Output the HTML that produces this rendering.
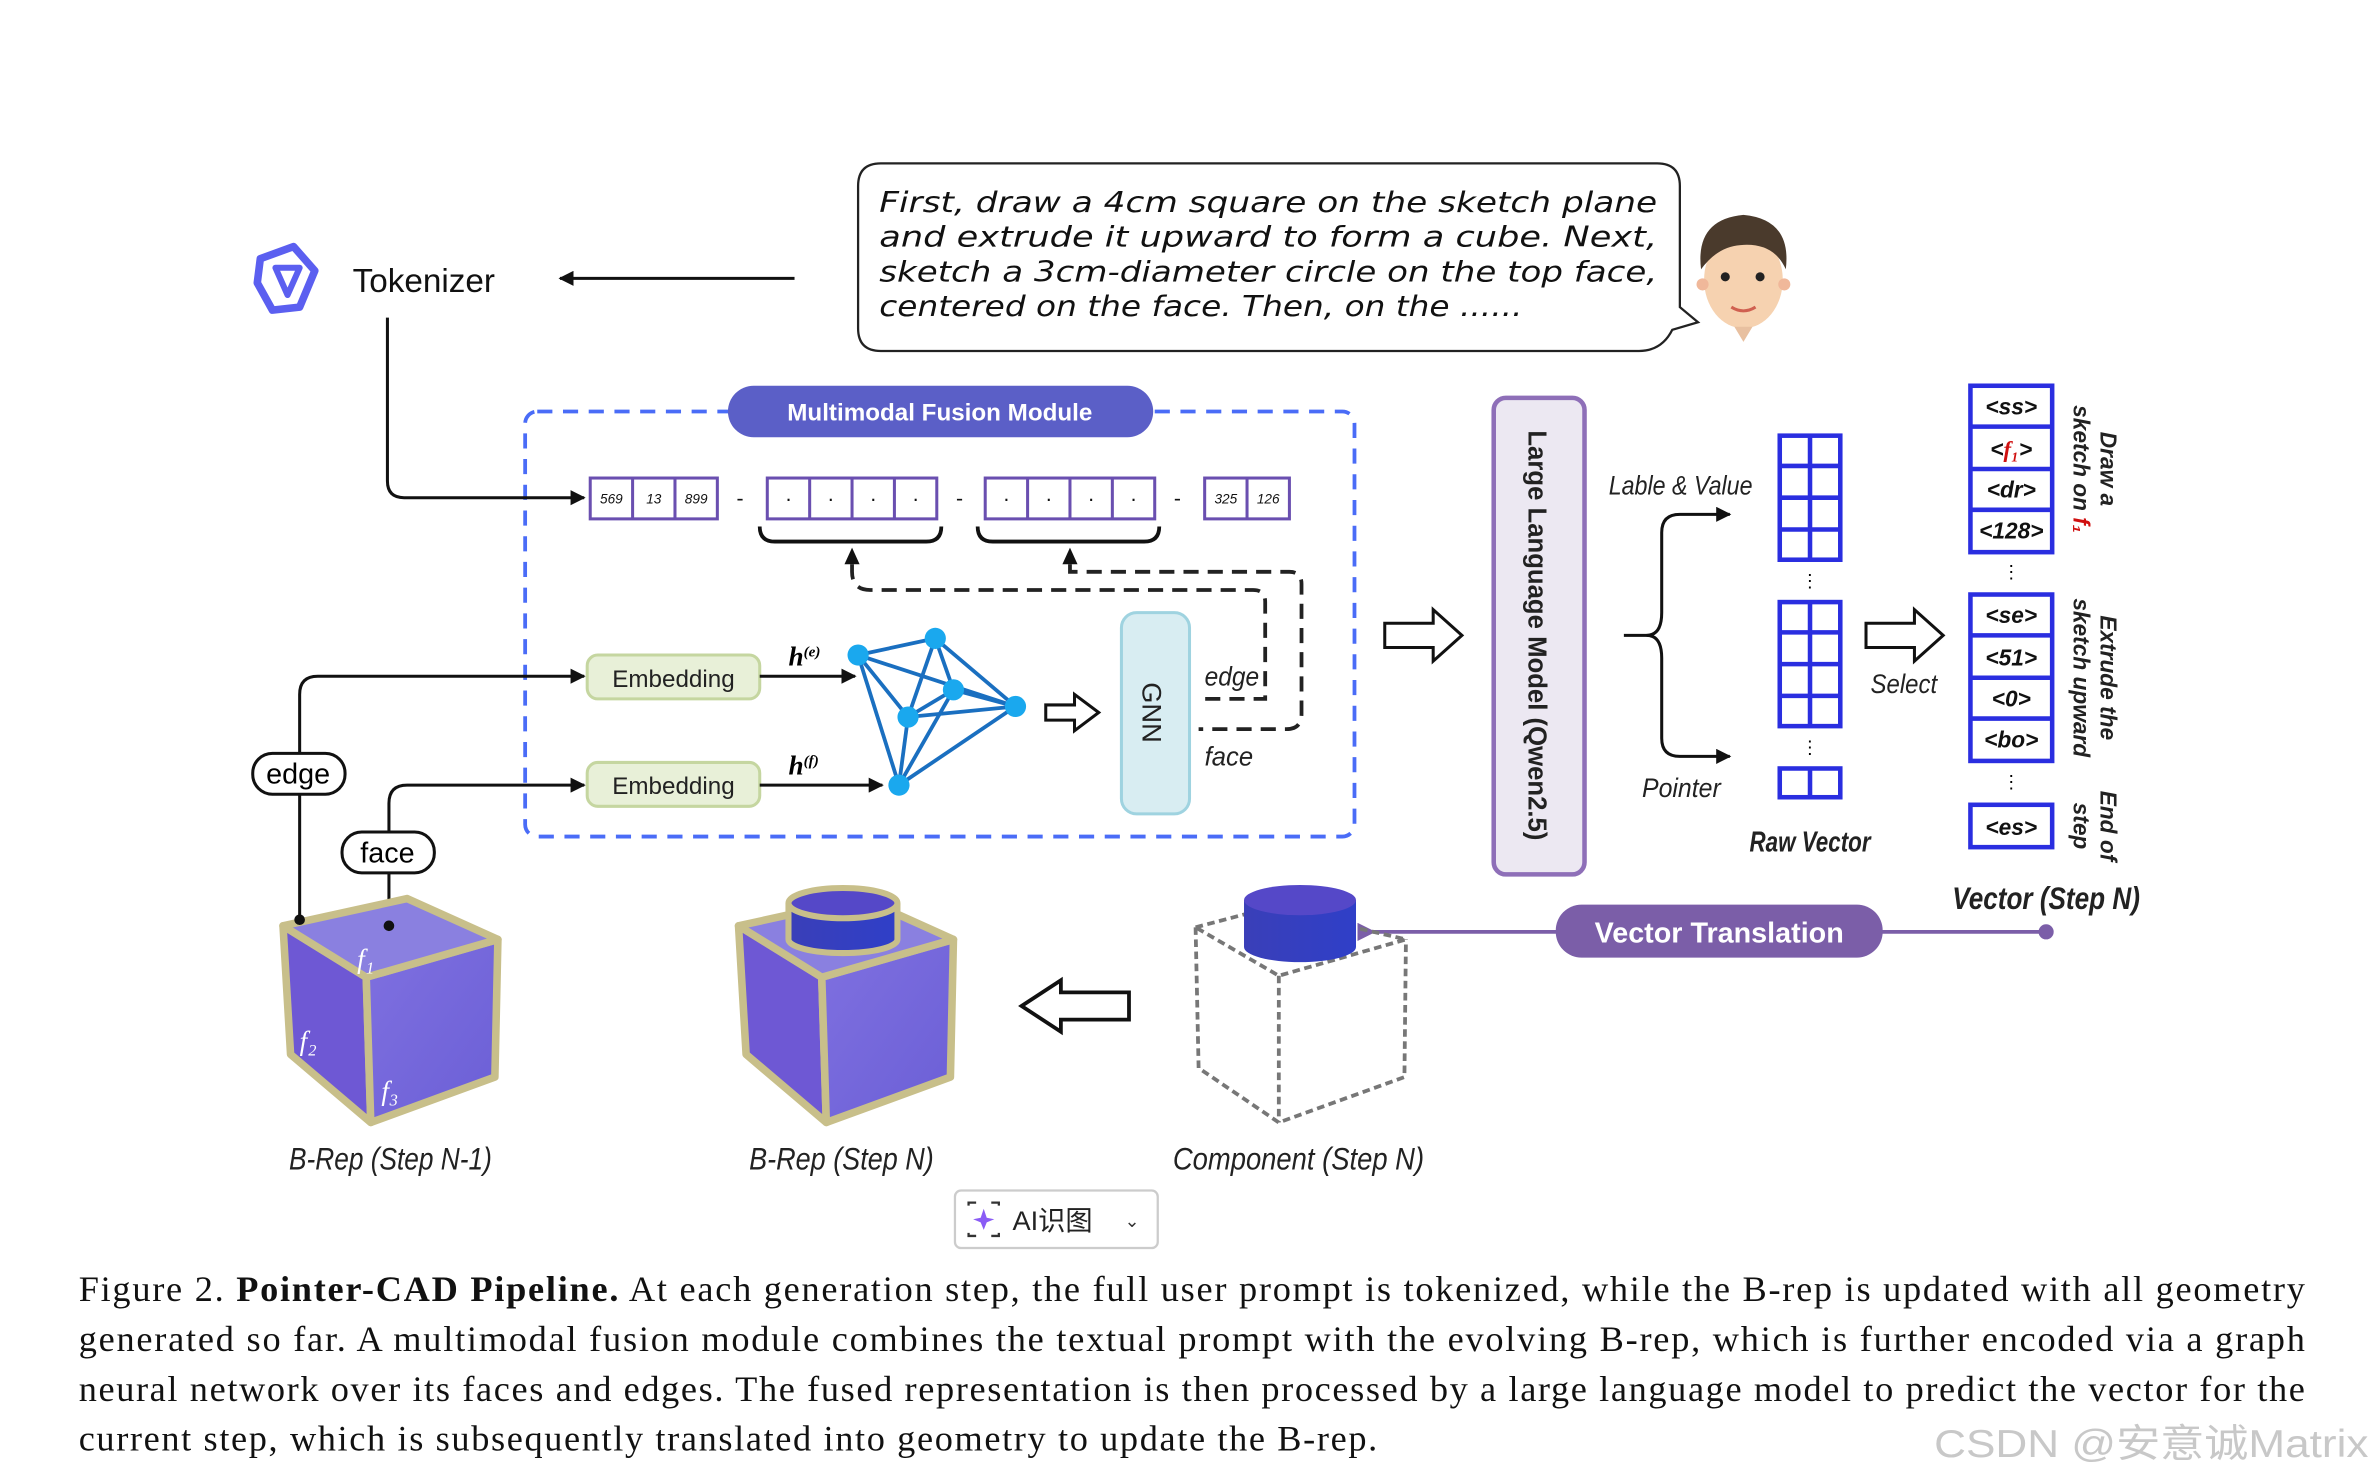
<!DOCTYPE html>
<html><head><meta charset="utf-8"><style>
html,body{margin:0;padding:0;background:#fff;width:2373px;height:1481px;overflow:hidden}
svg{display:block}
</style></head><body>
<svg width="2373" height="1481" viewBox="0 0 1568 979" preserveAspectRatio="none" xmlns="http://www.w3.org/2000/svg" font-family="Liberation Sans, Noto Sans CJK SC, sans-serif">
<defs>
<marker id="ah" markerWidth="10" markerHeight="10" refX="9" refY="5" orient="auto" markerUnits="userSpaceOnUse"><path d="M0,0 L10,5 L0,10 z" fill="#111"/></marker>
<marker id="ahp" markerWidth="12" markerHeight="12" refX="2" refY="6" orient="auto" markerUnits="userSpaceOnUse"><path d="M12,0 L0,6 L12,12 z" fill="#7b5ea8"/></marker>
<linearGradient id="cf" x1="0" y1="0" x2="1" y2="1"><stop offset="0" stop-color="#7f70e0"/><stop offset="1" stop-color="#6b5fd6"/></linearGradient>
<linearGradient id="cyl" x1="0" x2="1"><stop offset="0" stop-color="#3a3fb8"/><stop offset="1" stop-color="#2f3fc8"/></linearGradient>
</defs>

<g transform="translate(190,185)" fill="none" stroke="#5b5ff0" stroke-width="6" stroke-linejoin="round">
<path d="M-18,-14 L4,-22 L18,-6 L8,18 L-10,20 L-20,2 z" stroke-width="5"/>
<path d="M-8,-8 L8,-8 L0,10 z" stroke-width="4"/>
</g>
<text x="233" y="193" font-size="22" fill="#111">Tokenizer</text>
<line x1="525" y1="184" x2="370" y2="184" stroke="#111" stroke-width="2" marker-end="url(#ah)"/>

<path d="M582,108 H1095 Q1110,108 1110,123 V203 L1122,213 L1105,218 Q1098,232 1083,232 H582 Q567,232 567,217 V123 Q567,108 582,108 z" fill="#fff" stroke="#222" stroke-width="1.5"/>
<g font-family="DejaVu Sans, sans-serif" font-style="italic" font-size="19" fill="#111">
<text x="581" y="140" textLength="514" lengthAdjust="spacingAndGlyphs">First, draw a 4cm square on the sketch plane</text>
<text x="581" y="163" textLength="514" lengthAdjust="spacingAndGlyphs">and extrude it upward to form a cube. Next,</text>
<text x="581" y="186" textLength="514" lengthAdjust="spacingAndGlyphs">sketch a 3cm-diameter circle on the top face,</text>
<text x="581" y="209" textLength="425" lengthAdjust="spacingAndGlyphs">centered on the face. Then, on the ......</text>
</g>
<g>
<ellipse cx="1152" cy="185" rx="26" ry="32" fill="#f6d2b0"/>
<path d="M1124,178 Q1120,145 1152,142 Q1184,145 1180,178 Q1172,160 1150,162 Q1135,163 1124,178 z" fill="#4a3a2c"/>
<circle cx="1140" cy="183" r="3" fill="#222"/><circle cx="1163" cy="183" r="3" fill="#222"/>
<path d="M1144,203 Q1152,208 1160,203" stroke="#d06050" stroke-width="2" fill="none"/>
<circle cx="1125" cy="188" r="4" fill="#f0b89a"/><circle cx="1179" cy="188" r="4" fill="#f0b89a"/>
<path d="M1146,216 L1152,226 L1158,216 z" fill="#e8c0a0"/>
</g>

<rect x="347" y="272" width="548" height="281" rx="8" fill="none" stroke="#4a6cf7" stroke-width="2.5" stroke-dasharray="10,7"/>
<rect x="481" y="255" width="281" height="34" rx="17" fill="#5b5fc7"/>
<text x="621" y="278" font-size="16" font-weight="bold" fill="#fff" text-anchor="middle">Multimodal Fusion Module</text>

<path d="M256,210 V318 Q256,329 267,329 H386" fill="none" stroke="#111" stroke-width="2" marker-end="url(#ah)"/>

<g stroke="#6a4fb0" stroke-width="2" fill="#fff">
<rect x="390" y="316" width="84" height="27"/><line x1="418" y1="316" x2="418" y2="343"/><line x1="446" y1="316" x2="446" y2="343"/>
<rect x="507" y="316" width="112" height="27"/><line x1="535" y1="316" x2="535" y2="343"/><line x1="563" y1="316" x2="563" y2="343"/><line x1="591" y1="316" x2="591" y2="343"/>
<rect x="651" y="316" width="112" height="27"/><line x1="679" y1="316" x2="679" y2="343"/><line x1="707" y1="316" x2="707" y2="343"/><line x1="735" y1="316" x2="735" y2="343"/>
<rect x="796" y="316" width="56" height="27"/><line x1="824" y1="316" x2="824" y2="343"/>
</g>
<g font-size="9" font-style="italic" text-anchor="middle" fill="#111">
<text x="404" y="333">569</text><text x="432" y="333">13</text><text x="460" y="333">899</text>
<text x="810" y="333">325</text><text x="838" y="333">126</text>
</g>
<g font-size="14" text-anchor="middle" fill="#111">
<text x="521" y="334">·</text><text x="549" y="334">·</text><text x="577" y="334">·</text><text x="605" y="334">·</text>
<text x="665" y="334">·</text><text x="693" y="334">·</text><text x="721" y="334">·</text><text x="749" y="334">·</text>
<text x="489" y="334">-</text><text x="634" y="334">-</text><text x="778" y="334">-</text>
</g>
<g fill="none" stroke="#111" stroke-width="2.5">
<path d="M502,348 Q502,358 512,358 H612 Q622,358 622,348"/>
<path d="M646,348 Q646,358 656,358 H756 Q766,358 766,348"/>
</g>
<g fill="none" stroke="#222" stroke-width="2.5" stroke-dasharray="10,6">
<path d="M563,373 V378 Q563,390 575,390 H828 Q836,390 836,398 V462 H792"/>
<path d="M707,373 V378 H852 Q860,378 860,386 V472 Q860,482 850,482 H792"/>
</g>
<path d="M563,362 L558,373 L568,373 z" fill="#111"/>
<path d="M707,362 L702,373 L712,373 z" fill="#111"/>

<rect x="388" y="433" width="114" height="29" rx="7" fill="#e8f0d8" stroke="#c5d6a0" stroke-width="2"/>
<rect x="388" y="504" width="114" height="29" rx="7" fill="#e8f0d8" stroke="#c5d6a0" stroke-width="2"/>
<text x="445" y="454" font-size="16" text-anchor="middle" fill="#222">Embedding</text>
<text x="445" y="525" font-size="16" text-anchor="middle" fill="#222">Embedding</text>
<line x1="502" y1="447" x2="565" y2="447" stroke="#111" stroke-width="2" marker-end="url(#ah)"/>
<line x1="502" y1="519" x2="583" y2="519" stroke="#111" stroke-width="2" marker-end="url(#ah)"/>
<text x="521" y="440" font-family="Liberation Serif, serif" font-style="italic" font-weight="bold" font-size="18">h<tspan font-size="10" dy="-6">(e)</tspan></text>
<text x="521" y="512" font-family="Liberation Serif, serif" font-style="italic" font-weight="bold" font-size="18">h<tspan font-size="10" dy="-6">(f)</tspan></text>

<g stroke="#1a6fc0" stroke-width="2.5">
<line x1="567" y1="433" x2="618" y2="422"/><line x1="567" y1="433" x2="671" y2="467"/><line x1="567" y1="433" x2="600" y2="474"/><line x1="567" y1="433" x2="594" y2="519"/>
<line x1="618" y1="422" x2="671" y2="467"/><line x1="618" y1="422" x2="600" y2="474"/><line x1="618" y1="422" x2="630" y2="456"/>
<line x1="630" y1="456" x2="671" y2="467"/><line x1="630" y1="456" x2="600" y2="474"/><line x1="630" y1="456" x2="594" y2="519"/>
<line x1="600" y1="474" x2="671" y2="467"/><line x1="600" y1="474" x2="594" y2="519"/><line x1="671" y1="467" x2="594" y2="519"/>
</g>
<g fill="#1aa8ee"><circle cx="567" cy="433" r="7"/><circle cx="618" cy="422" r="7"/><circle cx="630" cy="456" r="7"/><circle cx="600" cy="474" r="7"/><circle cx="671" cy="467" r="7"/><circle cx="594" cy="519" r="7"/></g>
<path d="M691,466 H710 V459 L726,471 L710,483 V476 H691 z" fill="#fff" stroke="#111" stroke-width="2"/>
<rect x="741" y="405" width="45" height="133" rx="10" fill="#d8edf2" stroke="#9fd3e0" stroke-width="2"/>
<text transform="translate(755,471) rotate(90)" font-size="18" text-anchor="middle" fill="#222">GNN</text>
<text x="796" y="453" font-size="18" font-style="italic" fill="#222" textLength="36" lengthAdjust="spacingAndGlyphs">edge</text>
<text x="796" y="506" font-size="18" font-style="italic" fill="#222" textLength="32" lengthAdjust="spacingAndGlyphs">face</text>

<path d="M198,608 V459 Q198,447 210,447 H386" fill="none" stroke="#111" stroke-width="2" marker-end="url(#ah)"/>
<path d="M257,612 V531 Q257,519 269,519 H386" fill="none" stroke="#111" stroke-width="2" marker-end="url(#ah)"/>
<rect x="167" y="498" width="61" height="27" rx="13" fill="#fff" stroke="#111" stroke-width="2"/>
<text x="197" y="518" font-size="19" text-anchor="middle">edge</text>
<rect x="226" y="550" width="61" height="27" rx="13" fill="#fff" stroke="#111" stroke-width="2"/>
<text x="256" y="570" font-size="19" text-anchor="middle">face</text>

<path d="M915,412 H947 V403 L966,420 L947,437 V428 H915 z" fill="#fff" stroke="#111" stroke-width="2"/>
<rect x="987" y="263" width="60" height="315" rx="8" fill="#ece8f2" stroke="#8e6fb8" stroke-width="3"/>
<text transform="translate(1010,420) rotate(90)" font-size="17" font-weight="bold" text-anchor="middle" fill="#222">Large Language Model (Qwen2.5)</text>

<path d="M1073,420 H1088 Q1098,420 1098,405 V352 Q1098,340 1110,340 H1143" fill="none" stroke="#111" stroke-width="2" marker-end="url(#ah)"/>
<path d="M1088,420 Q1098,420 1098,435 V488 Q1098,500 1110,500 H1143" fill="none" stroke="#111" stroke-width="2" marker-end="url(#ah)"/>
<text x="1063" y="327" font-size="18" font-style="italic" fill="#222" textLength="95" lengthAdjust="spacingAndGlyphs">Lable &amp; Value</text>
<text x="1085" y="527" font-size="18" font-style="italic" fill="#222" textLength="52" lengthAdjust="spacingAndGlyphs">Pointer</text>

<g stroke="#2a2ee0" stroke-width="3" fill="#fff">
<rect x="1176" y="288" width="40" height="82"/><line x1="1196" y1="288" x2="1196" y2="370"/><line x1="1176" y1="308" x2="1216" y2="308"/><line x1="1176" y1="329" x2="1216" y2="329"/><line x1="1176" y1="350" x2="1216" y2="350"/>
<rect x="1176" y="398" width="40" height="82"/><line x1="1196" y1="398" x2="1196" y2="480"/><line x1="1176" y1="418" x2="1216" y2="418"/><line x1="1176" y1="439" x2="1216" y2="439"/><line x1="1176" y1="460" x2="1216" y2="460"/>
<rect x="1176" y="508" width="40" height="19"/><line x1="1196" y1="508" x2="1196" y2="527"/>
</g>
<text x="1196" y="388" font-size="12" text-anchor="middle">⋮</text>
<text x="1196" y="498" font-size="12" text-anchor="middle">⋮</text>
<text x="1196" y="563" font-size="19" font-style="italic" font-weight="bold" text-anchor="middle" fill="#222" textLength="80" lengthAdjust="spacingAndGlyphs">Raw Vector</text>

<path d="M1233,412 H1265 V403 L1284,420 L1265,437 V428 H1233 z" fill="#fff" stroke="#111" stroke-width="2"/>
<text x="1258" y="458" font-size="18" font-style="italic" text-anchor="middle" fill="#222" textLength="44" lengthAdjust="spacingAndGlyphs">Select</text>

<g stroke="#2a2ee0" stroke-width="3" fill="#fff">
<rect x="1302" y="255" width="54" height="110"/><line x1="1302" y1="282" x2="1356" y2="282"/><line x1="1302" y1="310" x2="1356" y2="310"/><line x1="1302" y1="337" x2="1356" y2="337"/>
<rect x="1302" y="393" width="54" height="110"/><line x1="1302" y1="420" x2="1356" y2="420"/><line x1="1302" y1="448" x2="1356" y2="448"/><line x1="1302" y1="475" x2="1356" y2="475"/>
<rect x="1302" y="532" width="54" height="28"/>
</g>
<g font-size="15" font-weight="bold" font-style="italic" text-anchor="middle" fill="#111">
<text x="1329" y="274">&lt;ss&gt;</text><text x="1329" y="302">&lt;<tspan fill="#d01010" font-family="Liberation Serif, serif">f₁</tspan>&gt;</text><text x="1329" y="329">&lt;dr&gt;</text><text x="1329" y="356">&lt;128&gt;</text>
<text x="1329" y="412">&lt;se&gt;</text><text x="1329" y="440">&lt;51&gt;</text><text x="1329" y="467">&lt;0&gt;</text><text x="1329" y="494">&lt;bo&gt;</text>
<text x="1329" y="552">&lt;es&gt;</text>
</g>
<text x="1329" y="382" font-size="12" text-anchor="middle">⋮</text>
<text x="1329" y="521" font-size="12" text-anchor="middle">⋮</text>
<g font-size="15" font-weight="bold" font-style="italic" fill="#222">
<text transform="translate(1388,310) rotate(90)" text-anchor="middle">Draw a</text>
<text transform="translate(1370,310) rotate(90)" text-anchor="middle">sketch on <tspan fill="#d01010">f₁</tspan></text>
<text transform="translate(1388,448) rotate(90)" text-anchor="middle">Extrude the</text>
<text transform="translate(1370,448) rotate(90)" text-anchor="middle">sketch upward</text>
<text transform="translate(1388,546) rotate(90)" text-anchor="middle">End of</text>
<text transform="translate(1370,546) rotate(90)" text-anchor="middle">step</text>
</g>
<text x="1352" y="601" font-size="21" font-style="italic" font-weight="bold" text-anchor="middle" fill="#222" textLength="124" lengthAdjust="spacingAndGlyphs">Vector (Step N)</text>

<line x1="1352" y1="616" x2="907" y2="616" stroke="#7b5ea8" stroke-width="2.5" marker-end="url(#ahp)"/>
<circle cx="1352" cy="616" r="5" fill="#7b5ea8"/>
<rect x="1028" y="598" width="216" height="35" rx="17" fill="#7b5ea8"/>
<text x="1136" y="623" font-size="19" font-weight="bold" text-anchor="middle" fill="#fff">Vector Translation</text>

<g stroke="#c8bf8a" stroke-width="5" stroke-linejoin="round">
<path d="M187,612 L242,646 L245,742 L192,697 z" fill="#6e58d4"/>
<path d="M242,646 L329,621 L327,712 L245,742 z" fill="url(#cf)"/>
<path d="M187,612 L269,594 L329,621 L242,646 z" fill="#8a80e0"/>
</g>
<circle cx="198" cy="608" r="3.5" fill="#111"/><circle cx="257" cy="612" r="3.5" fill="#111"/>
<g font-family="Liberation Serif, serif" font-style="italic" fill="#fff" font-size="18">
<text x="236" y="640">f₁</text><text x="198" y="694">f₂</text><text x="252" y="727">f₃</text></g>

<g stroke="#c8bf8a" stroke-width="5" stroke-linejoin="round">
<path d="M488,612 L543,646 L546,742 L493,697 z" fill="#6e58d4"/>
<path d="M543,646 L630,621 L628,712 L546,742 z" fill="url(#cf)"/>
<path d="M488,612 L570,594 L630,621 L543,646 z" fill="#8a80e0"/>
</g>
<g stroke="#c8bf8a" stroke-width="4">
<path d="M521,597 V621 A36,9 0 0 0 593,621 V597" fill="url(#cyl)"/>
<ellipse cx="557" cy="597" rx="36" ry="10" fill="#5548c8"/>
</g>
<path d="M675,665 L701,648 V656 H746 V674 H701 V682 z" fill="#fff" stroke="#111" stroke-width="2.5"/>

<g fill="none" stroke="#777" stroke-width="2.5" stroke-dasharray="5,3">
<path d="M790,613 L839,600 L929,621 L845,645 z"/>
<path d="M790,613 L792,706 L845,742 L928,712 L929,621"/><path d="M845,645 V742"/>
</g>
<path d="M822,595 V626 A37,10 0 0 0 896,626 V595" fill="url(#cyl)"/>
<ellipse cx="859" cy="595" rx="37" ry="10" fill="#5548c8"/>

<g font-size="21" font-style="italic" fill="#222" text-anchor="middle">
<text x="258" y="773" textLength="134" lengthAdjust="spacingAndGlyphs">B-Rep (Step N-1)</text>
<text x="556" y="773" textLength="122" lengthAdjust="spacingAndGlyphs">B-Rep (Step N)</text>
<text x="858" y="773" textLength="166" lengthAdjust="spacingAndGlyphs">Component (Step N)</text>
</g>

<rect x="631" y="787" width="134" height="38" rx="4" fill="#fff" stroke="#ccc" stroke-width="1.5"/>
<path d="M640,797 V795 H645 M655,795 H660 V797 M660,815 V817 H655 M645,817 H640 V815" stroke="#333" stroke-width="1.5" fill="none"/>
<path d="M650,799 L652,805 L657,806 L652,808 L650,813 L648,808 L643,806 L648,805 z" fill="#8a5cf5"/>
<text x="669" y="813" font-size="18" fill="#222">AI识图</text>
<text x="743" y="811" font-size="12" fill="#333">⌄</text>

<g font-family="Liberation Serif, serif" font-size="24" fill="#111">
<text x="52" y="860" textLength="1471" lengthAdjust="spacing">Figure 2. <tspan font-weight="bold">Pointer-CAD Pipeline.</tspan> At each generation step, the full user prompt is tokenized, while the B-rep is updated with all geometry</text>
<text x="52" y="893" textLength="1471" lengthAdjust="spacing">generated so far. A multimodal fusion module combines the textual prompt with the evolving B-rep, which is further encoded via a graph</text>
<text x="52" y="926" textLength="1471" lengthAdjust="spacing">neural network over its faces and edges. The fused representation is then processed by a large language model to predict the vector for the</text>
<text x="52" y="959" textLength="858" lengthAdjust="spacing">current step, which is subsequently translated into geometry to update the B-rep.</text>
</g>
<text x="1278" y="963" font-size="26" fill="#c8c8c8" textLength="287" lengthAdjust="spacingAndGlyphs">CSDN @安意诚Matrix</text>
</svg>
</body></html>
